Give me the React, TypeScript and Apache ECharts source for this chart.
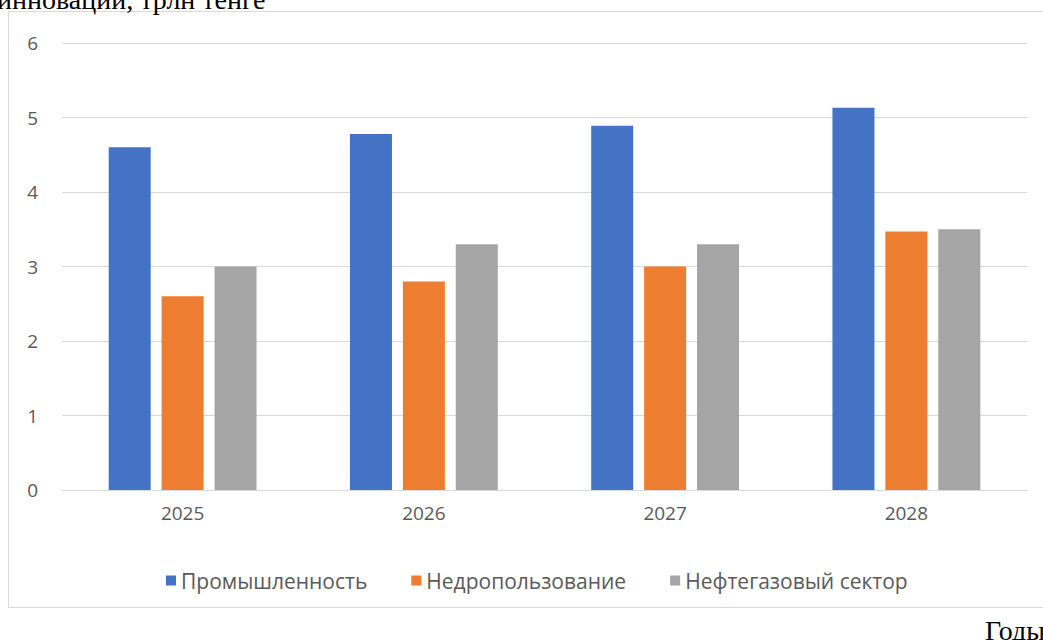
import React, { useEffect, useRef } from "react";
import * as echarts from "echarts";

const categories = ["2025", "2026", "2027", "2028"];
const industry = [4.6, 4.78, 4.89, 5.13];
const subsoil = [2.6, 2.8, 3.0, 3.47];
const oilgas = [3.0, 3.3, 3.3, 3.5];
const seriesNames = ["Промышленность", "Недропользование", "Нефтегазовый сектор"];
const yTicks = { min: 0, max: 6, interval: 1 };

export default function App() {
  const ref = useRef<HTMLDivElement>(null);
  useEffect(() => {
    if (!ref.current) return;
    const chart = echarts.init(ref.current, undefined, { renderer: "svg" });
    const font = "'Open Sans', 'Noto Sans', sans-serif";
    const colors = ["#4472C4", "#ED7D31", "#A5A5A5"];
    const datas = [industry, subsoil, oilgas];
    chart.setOption({
      animation: false,
      backgroundColor: "#ffffff",
      graphic: [
        {
          type: "rect",
          shape: { x: 8.5, y: 11.5, width: 1100, height: 596 },
          style: { fill: "none", stroke: "#d9d9d9", lineWidth: 1 },
          z: -1,
        },
        {
          type: "text",
          left: -3,
          top: -15,
          style: {
            text: "инноваций, трлн тенге",
            fill: "#000000",
            font: "28px 'Liberation Serif', 'DejaVu Serif', serif",
          },
        },
        {
          type: "text",
          left: 985,
          top: 616,
          style: {
            text: "Годы",
            fill: "#000000",
            font: "28px 'Liberation Serif', 'DejaVu Serif', serif",
          },
        },
      ],
      grid: { left: 62, right: 16, top: 43, bottom: 150, containLabel: false },
      legend: {
        data: seriesNames,
        left: 161,
        top: 565,
        itemWidth: 10,
        itemHeight: 10,
        itemGap: 44,
        icon: "rect",
        textStyle: { color: "#595959", fontSize: 21, fontFamily: font },
      },
      xAxis: {
        type: "category",
        data: categories,
        axisLine: { show: true, lineStyle: { color: "#d9d9d9" } },
        axisTick: { show: false },
        axisLabel: { color: "#595959", fontSize: 19, fontFamily: font, margin: 13 },
      },
      yAxis: {
        type: "value",
        min: yTicks.min,
        max: yTicks.max,
        interval: yTicks.interval,
        axisLine: { show: false },
        axisTick: { show: false },
        splitLine: { lineStyle: { color: "#d9d9d9", width: 1 } },
        axisLabel: { color: "#595959", fontSize: 19, fontFamily: font, margin: 24 },
      },
      series: seriesNames.map((name, i) => ({
        name,
        type: "bar",
        data: datas[i],
        barWidth: 42,
        barGap: "26%",
        itemStyle: { color: colors[i] },
      })),
    });
    return () => chart.dispose();
  }, []);
  return (
    <div
      ref={ref}
      style={{ position: "fixed", left: 0, top: 0, width: 1043, height: 640 }}
    />
  );
}
